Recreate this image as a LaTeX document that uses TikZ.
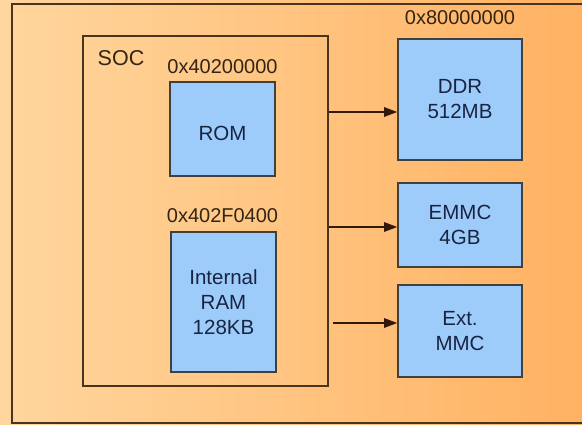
\documentclass[tikz,border=0pt]{standalone}
\usepackage{fontspec}
\setmainfont{Liberation Sans}
\usetikzlibrary{arrows.meta}
\definecolor{bgleft}{RGB}{255,214,158}
\definecolor{bgright}{RGB}{255,178,98}
\definecolor{frameline}{RGB}{74,52,30}
\definecolor{boxfill}{RGB}{158,204,250}
\definecolor{boxline}{RGB}{64,64,64}
\definecolor{boxtext}{RGB}{24,36,66}
\definecolor{addrtext}{RGB}{52,36,20}
\definecolor{arrowline}{RGB}{52,24,10}
\tikzset{
  frame/.style={draw=frameline, line width=1.6pt, fill=none, inner sep=0pt},
  membox/.style={draw=boxline, line width=1.6pt, fill=boxfill, inner sep=0pt,
    text=boxtext, align=center, font=\fontsize{20.5}{25}\selectfont},
  addr/.style={text=addrtext, inner sep=0pt, font=\fontsize{20}{24}\selectfont},
  bus/.style={draw=arrowline, line width=1.3pt, -{Triangle[length=13pt,width=9.5pt]}}
}
\begin{document}
\begin{tikzpicture}[x=1pt,y=-1pt]
  \clip (0,0) rectangle (582,425);
  % background with a left-to-right orange gradient
  \shade[left color=bgleft, right color=bgright] (0,0) rectangle (582,425);

  % board outline and SoC outline
  \node[frame, minimum width=590pt, minimum height=419pt] (board) at (307,213.5) {};
  \node[frame, minimum width=245pt, minimum height=350pt] (soc) at (205.5,211) {};
  \node[addr, font=\fontsize{21.5}{25}\selectfont] (soclabel) at (121,58) {SOC};

  % on-chip memories
  \node[membox, minimum width=105pt, minimum height=94pt] (rom) at (222.5,129) {\raisebox{-4pt}[\height][\depth]{ROM}};
  \node[addr] (romaddr) at (222.5,67) {0x40200000};
  \node[membox, minimum width=105pt, minimum height=140pt] (ram) at (223.5,302) {Internal\\RAM\\128KB};
  \node[addr] (ramaddr) at (222.5,216) {0x402F0400};

  % external memories
  \node[membox, minimum width=124pt, minimum height=121pt] (ddr) at (460,99.5) {DDR\\512MB};
  \node[addr] (ddraddr) at (460,18) {0x80000000};
  \node[membox, minimum width=124pt, minimum height=84pt] (emmc) at (460,225) {EMMC\\4GB};
  \node[membox, minimum width=124pt, minimum height=92pt] (extmmc) at (460,331) {Ext.\\MMC};

  % buses leaving the SoC
  \coordinate (ddrin) at ([yshift=-12.5pt]ddr.west);
  \coordinate (emmcin) at ([yshift=-2pt]emmc.west);
  \coordinate (extin) at ([yshift=8pt]extmmc.west);
  \coordinate (extout) at ([xshift=4pt]soc.east |- extin);
  \draw[bus] (soc.east |- ddrin) -- (ddrin);
  \draw[bus] (soc.east |- emmcin) -- (emmcin);
  \draw[bus] (extout) -- (extin);
\end{tikzpicture}
\end{document}
